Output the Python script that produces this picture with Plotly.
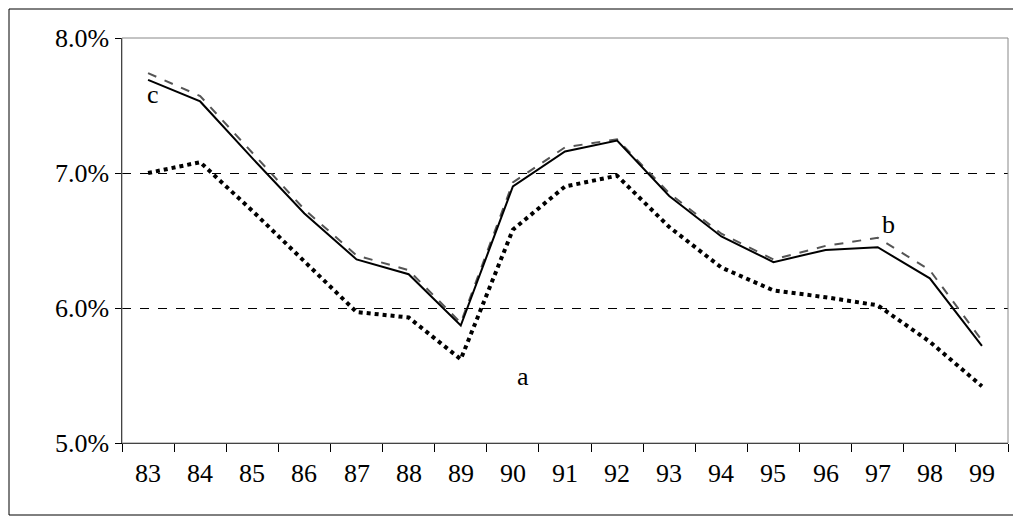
import plotly.graph_objects as go

years = ["83","84","85","86","87","88","89","90","91","92","93","94","95","96","97","98","99"]
series_c = [7.69,7.53,7.11,6.70,6.36,6.25,5.87,6.90,7.16,7.24,6.83,6.53,6.34,6.43,6.45,6.22,5.72]
series_b = [7.74,7.57,7.15,6.73,6.39,6.28,5.89,6.93,7.19,7.25,6.85,6.55,6.36,6.46,6.52,6.28,5.76]
series_a = [7.00,7.08,6.72,6.35,5.97,5.93,5.62,6.58,6.90,6.98,6.60,6.30,6.13,6.08,6.02,5.75,5.42]
y_ticks = [0.05, 0.06, 0.07, 0.08]

fig = go.Figure()
fig.add_trace(go.Scatter(x=years, y=[v/100 for v in series_a], mode="lines",
                         line=dict(color="black", width=4, dash="dot")))
fig.add_trace(go.Scatter(x=years, y=[v/100 for v in series_b], mode="lines",
                         line=dict(color="#555555", width=2, dash="dash")))
fig.add_trace(go.Scatter(x=years, y=[v/100 for v in series_c], mode="lines",
                         line=dict(color="black", width=2)))

font = dict(family="Times New Roman", size=26, color="black")
for txt, xi, yv in [("c", 0.1, 0.0758), ("b", 14.2, 0.0662), ("a", 7.2, 0.0549)]:
    fig.add_annotation(x=xi, y=yv, text=txt, showarrow=False, font=font)
for yv in y_ticks:
    fig.add_annotation(xref="paper", x=-0.012, y=yv, text=f"{yv*100:.1f}%", showarrow=False,
                       xanchor="right", font=font)
for i, yr in enumerate(years):
    fig.add_annotation(x=i, yref="paper", y=-0.035, text=yr, showarrow=False,
                       yanchor="top", font=font)

fig.update_layout(
    width=1013, height=508, showlegend=False,
    paper_bgcolor="white", plot_bgcolor="white",
    margin=dict(l=114, r=13, t=30, b=73),
    font=font,
    xaxis=dict(type="category", tickson="boundaries", ticks="outside", ticklen=8,
               tickcolor="black", showline=True, linecolor="black",
               showgrid=False, range=[-0.5, 16.5], showticklabels=False,
               automargin=False),
    yaxis=dict(range=[0.05, 0.08], tickvals=y_ticks, ticks="outside",
               ticklen=6, tickcolor="black", showline=True, linecolor="black",
               gridcolor="black", griddash="dash", gridwidth=1, zeroline=False,
               showticklabels=False, automargin=False),
    shapes=[
        dict(type="rect", xref="paper", yref="paper", x0=0, x1=1, y0=0, y1=1,
             line=dict(color="#888888", width=1)),
        dict(type="rect", xref="paper", yref="paper", x0=-113/886, x1=1+11/886,
             y0=-72/405, y1=1+29/405, line=dict(color="black", width=1)),
    ],
)
fig.write_html("out.html")
